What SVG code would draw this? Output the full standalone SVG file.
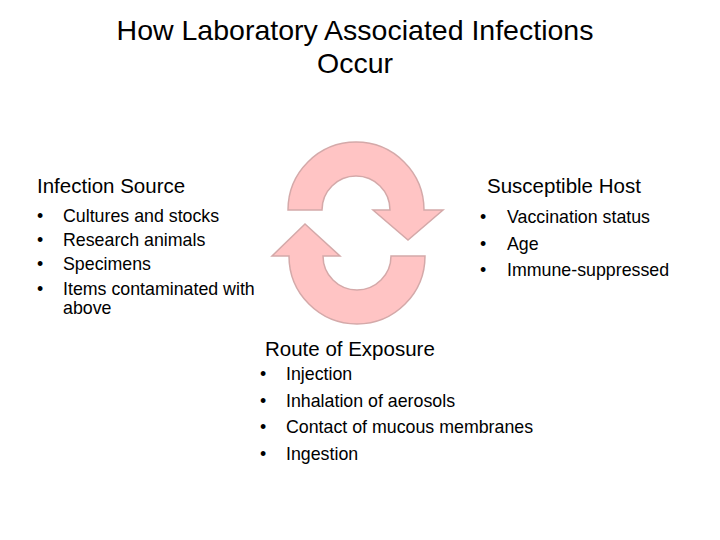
<svg xmlns="http://www.w3.org/2000/svg" width="720" height="540" viewBox="0 0 720 540">
<style>
text{font-family:"Liberation Sans","DejaVu Sans",sans-serif;fill:#000}
.t{font-size:28.5px}
.h{font-size:20.5px}
.l{font-size:17.8px}
.a{fill:#ffc4c4;stroke:#d4a9a9;stroke-width:1.5}
</style>
<rect width="720" height="540" fill="#fff"/>
<g id="title"><text class="t" x="355" y="40" text-anchor="middle">How Laboratory Associated Infections</text><text class="t" x="355" y="73" text-anchor="middle">Occur</text></g>
<g id="connectors">
<path class="a" d="M288 210 A68 68 0 0 1 424 210 L443 210 L408 240 L373 210 L390 210 A34 34 0 0 0 322 210 Z"/>
<path class="a" d="M425 256 A68 68 0 0 1 289 256 L272 256 L305 224 L340 256 L323 256 A34 34 0 0 0 391 256 Z"/>
</g>
<g id="source"><text class="h" x="37" y="193">Infection Source</text>
<text class="l" x="37" y="222">•</text><text class="l" x="63" y="222">Cultures and stocks</text>
<text class="l" x="37" y="246">•</text><text class="l" x="63" y="246">Research animals</text>
<text class="l" x="37" y="270">•</text><text class="l" x="63" y="270">Specimens</text>
<text class="l" x="37" y="295">•</text><text class="l" x="63" y="295">Items contaminated with</text>
<text class="l" x="63" y="314">above</text></g>
<g id="host"><text class="h" x="487" y="193">Susceptible Host</text>
<text class="l" x="480" y="223">•</text><text class="l" x="507" y="223">Vaccination status</text>
<text class="l" x="480" y="250">•</text><text class="l" x="507" y="250">Age</text>
<text class="l" x="480" y="276">•</text><text class="l" x="507" y="276">Immune-suppressed</text></g>
<g id="route"><text class="h" x="265" y="356">Route of Exposure</text>
<text class="l" x="260" y="380">•</text><text class="l" x="286" y="380">Injection</text>
<text class="l" x="260" y="407">•</text><text class="l" x="286" y="407">Inhalation of aerosols</text>
<text class="l" x="260" y="433">•</text><text class="l" x="286" y="433">Contact of mucous membranes</text>
<text class="l" x="260" y="460">•</text><text class="l" x="286" y="460">Ingestion</text></g>
</svg>
